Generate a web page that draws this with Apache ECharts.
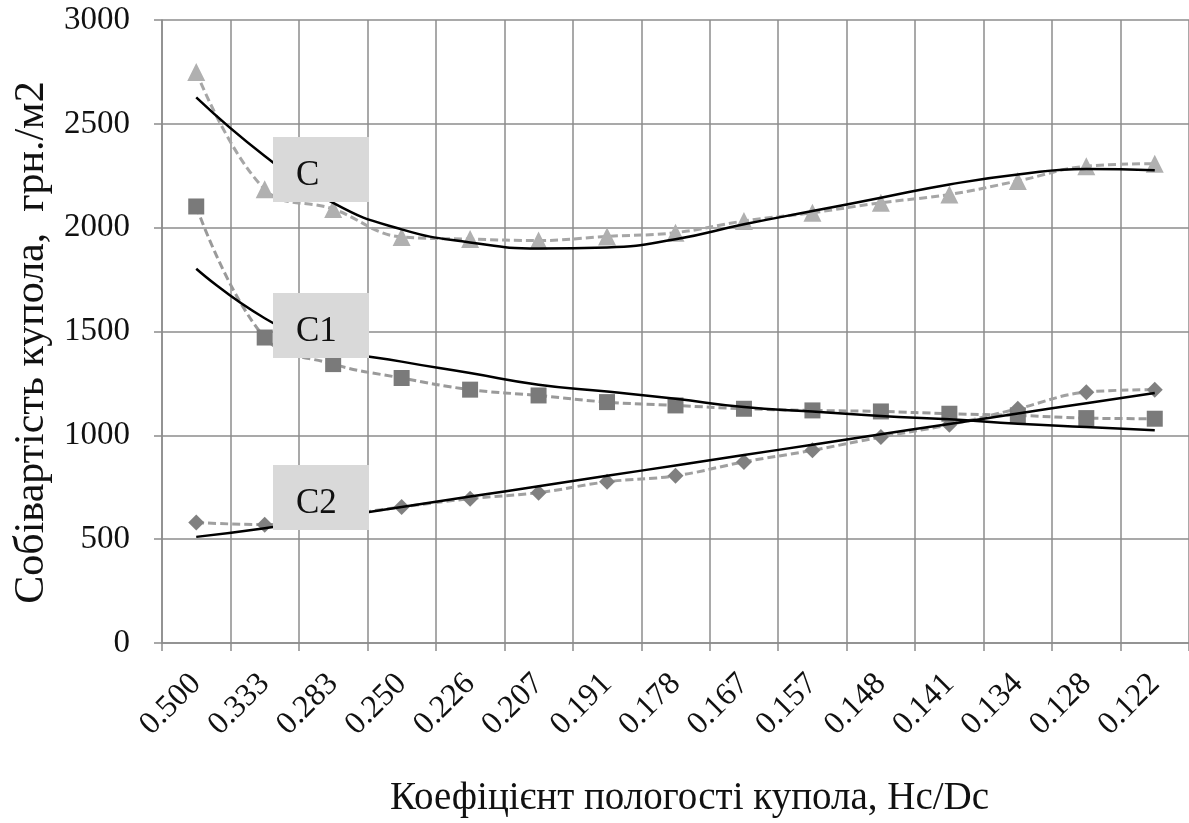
<!DOCTYPE html>
<html>
<head>
<meta charset="utf-8">
<script src="https://cdn.jsdelivr.net/npm/echarts@6/dist/echarts.min.js"></script>
<style>
  html, body { margin: 0; padding: 0; background: #fff; }
  #chart { width: 1189px; height: 823px; }
</style>
</head>
<body>
<div id="chart"></div>
<script>
// Hc/Dc categories
const categories = ['0.500', '0.333', '0.283', '0.250', '0.226', '0.207', '0.191', '0.178',
  '0.167', '0.157', '0.148', '0.141', '0.134', '0.128', '0.122']

// measured points
const valuesC = [2750, 2185, 2090, 1955, 1945, 1938, 1958, 1976, 2032, 2072, 2120, 2160, 2225, 2296, 2308]
const valuesC1 = [2102, 1471, 1343, 1276, 1220, 1192, 1160, 1144, 1128, 1120, 1115, 1104, 1096, 1083, 1080]
const valuesC2 = [580, 570, 610, 655, 695, 724, 776, 805, 872, 928, 992, 1051, 1128, 1208, 1220]

// trend lines
const trendC = [2627, 2345, 2119, 1992, 1929, 1900, 1905, 1944, 2016, 2080, 2144, 2208, 2256, 2283, 2276]
const trendC1 = [1802, 1564, 1420, 1355, 1300, 1244, 1211, 1176, 1136, 1115, 1093, 1077, 1056, 1040, 1024]
const trendC2 = [511, 553, 604, 655, 705, 755, 805, 855, 905, 955, 1005, 1055, 1105, 1155, 1204]

const yTicks = { min: 0, max: 3000, interval: 500 }

const serif = '"Liberation Serif", "DejaVu Serif", serif'
const gridColor = '#8c8c8c'

const pointSeries = (name, data, symbol, size, markColor, lineColor) => ({
  name,
  type: 'line',
  data,
  smooth: 0.4,
  symbol,
  symbolSize: size,
  z: 2,
  itemStyle: { color: markColor },
  lineStyle: { color: lineColor, width: 3, type: [8, 4] }
})

const trendSeries = (name, data) => ({
  name,
  type: 'line',
  data,
  smooth: 0.5,
  showSymbol: false,
  z: 3,
  lineStyle: { color: '#000', width: 2.5 }
})

const labelBox = (text, top) => ({
  type: 'group',
  left: 273,
  top,
  z: 100,
  children: [
    { type: 'rect', z: 100, shape: { x: 0, y: 0, width: 96, height: 65 }, style: { fill: '#d9d9d9' } },
    { type: 'text', z: 101, x: 23, y: 39, style: { text, font: '35px ' + serif, fill: '#111', verticalAlign: 'middle' } }
  ]
})

const chart = echarts.init(document.getElementById('chart'))
chart.setOption({
  animation: false,
  backgroundColor: '#fff',
  grid: { left: 162, right: 0, top: 20, bottom: 176, containLabel: false },
  xAxis: {
    type: 'category',
    data: categories,
    boundaryGap: true,
    name: 'Коефіцієнт пологості купола, Hc/Dc',
    nameLocation: 'middle',
    nameGap: 136,
    nameTextStyle: { fontFamily: serif, fontSize: 39, color: '#111', padding: [0, 0, 0, 28] },
    axisLine: { lineStyle: { color: gridColor, width: 1.5 } },
    axisTick: { show: true, length: 8, alignWithLabel: false, lineStyle: { color: gridColor, width: 1.5 } },
    axisLabel: { rotate: 45, margin: 36, fontFamily: serif, fontSize: 32, color: '#111', interval: 0 },
    splitLine: { show: true, interval: 0, lineStyle: { color: gridColor, width: 1.5 } }
  },
  yAxis: {
    type: 'value',
    min: yTicks.min,
    max: yTicks.max,
    interval: yTicks.interval,
    name: 'Собівартість купола,  грн./м2',
    nameLocation: 'middle',
    nameGap: 108,
    nameTextStyle: { fontFamily: serif, fontSize: 42, color: '#111', padding: [0, 22, 0, 0] },
    axisLine: { show: true, lineStyle: { color: gridColor, width: 1.5 } },
    axisTick: { show: true, length: 8, lineStyle: { color: gridColor, width: 1.5 } },
    axisLabel: { margin: 32, fontFamily: serif, fontSize: 33, color: '#111', formatter: (v) => String(v) },
    splitLine: { show: true, lineStyle: { color: gridColor, width: 1.5 } }
  },
  series: [
    pointSeries('C', valuesC, 'triangle', 18, '#b0b0b0', '#a6a6a6'),
    pointSeries('C1', valuesC1, 'rect', 16, '#7a7a7a', '#9a9a9a'),
    pointSeries('C2', valuesC2, 'diamond', 16, '#808080', '#a0a0a0'),
    trendSeries('Trend C', trendC),
    trendSeries('Trend C1', trendC1),
    trendSeries('Trend C2', trendC2)
  ],
  graphic: [
    labelBox('C', 137),
    labelBox('C1', 293),
    labelBox('C2', 465)
  ]
})
</script>
</body>
</html>
